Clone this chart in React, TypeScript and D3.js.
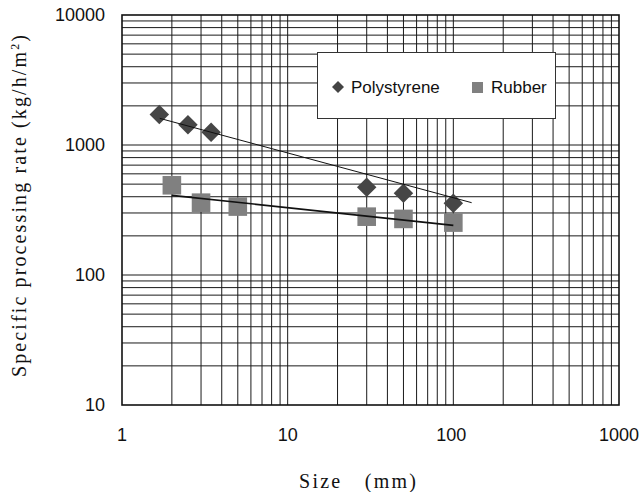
import * as d3 from "d3";

// size in mm vs specific processing rate (kg/h/m2)
const polySize = [1.68, 2.5, 3.45, 30, 50, 100];
const polyRate = [1720, 1430, 1255, 473, 425, 356];
const rubberSize = [2, 3, 5, 30, 50, 100];
const rubberRate = [490, 360, 336, 281, 270, 253];

// trend line ends
const polyTrendSize = [1.69, 129];
const polyTrendRate = [1603, 360];
const rubberTrendSize = [2, 100];
const rubberTrendRate = [410, 241];

const xTickValues = [1, 10, 100, 1000];
const yTickValues = [10, 100, 1000, 10000];

const W = 640;
const H = 492;
const M = { left: 122, right: 619, top: 15, bottom: 405 };

const SANS = "'Liberation Sans', Arial, sans-serif";
const SERIF = "'Liberation Serif', 'DejaVu Serif', serif";

export default function App() {
  const x = d3.scaleLog().domain([1, 1000]).range([M.left, M.right]);
  const y = d3.scaleLog().domain([10, 10000]).range([M.bottom, M.top]);

  // minor grid: 1..9 in every decade
  const gridX: number[] = [];
  const gridY: number[] = [];
  for (const d of [1, 10, 100]) for (let k = 2; k <= 9; k++) gridX.push(d * k);
  for (const d of [10, 100, 1000]) for (let k = 2; k <= 9; k++) gridY.push(d * k);
  gridX.push(10, 100);
  gridY.push(100, 1000);

  const line = d3
    .line<[number, number]>()
    .x((d) => x(d[0]))
    .y((d) => y(d[1]));

  const polyTrend = polyTrendSize.map((s, i) => [s, polyTrendRate[i]] as [number, number]);
  const rubberTrend = rubberTrendSize.map((s, i) => [s, rubberTrendRate[i]] as [number, number]);

  const dia = d3.symbol().type(d3.symbolSquare).size(190)();
  const legendDia = d3.symbol().type(d3.symbolSquare).size(72)();

  return (
    <svg
      width={W}
      height={H}
      style={{ position: "absolute", left: 0, top: 0, background: "#fff" }}
    >
      <rect x={0} y={0} width={W} height={H} fill="#fff" />

      {/* grid */}
      <g stroke="#1a1a1a" strokeWidth={1}>
        {gridX.map((v) => (
          <line key={"gx" + v} x1={x(v)} x2={x(v)} y1={M.top} y2={M.bottom} />
        ))}
        {gridY.map((v) => (
          <line key={"gy" + v} x1={M.left} x2={M.right} y1={y(v)} y2={y(v)} />
        ))}
      </g>
      <rect
        x={M.left}
        y={M.top}
        width={M.right - M.left}
        height={M.bottom - M.top}
        fill="none"
        stroke="#111"
        strokeWidth={1.6}
      />

      {/* legend */}
      <rect x={317.5} y={52.5} width={238} height={66} fill="#fff" stroke="#333" strokeWidth={1} />
      <path d={legendDia} transform="translate(338,87) rotate(45)" fill="#444" />
      <text x={351} y={93} fontFamily={SANS} fontSize={17} fill="#111">
        Polystyrene
      </text>
      <rect x={472} y={82} width={11} height={11} fill="#808080" />
      <text x={491} y={93} fontFamily={SANS} fontSize={17} fill="#111">
        Rubber
      </text>

      {/* markers */}
      {polySize.map((s, i) => (
        <path
          key={"p" + i}
          d={dia}
          transform={`translate(${x(s)},${y(polyRate[i])}) rotate(45)`}
          fill="#464646"
        />
      ))}
      {rubberSize.map((s, i) => (
        <rect
          key={"r" + i}
          x={x(s) - 9.3}
          y={y(rubberRate[i]) - 9.3}
          width={18.6}
          height={18.6}
          fill="#808080"
        />
      ))}

      {/* trend lines */}
      <path d={line(polyTrend) ?? ""} fill="none" stroke="#111" strokeWidth={1} />
      <path d={line(rubberTrend) ?? ""} fill="none" stroke="#111" strokeWidth={1.6} />

      {/* tick labels */}
      {yTickValues.map((v) => (
        <text
          key={"yt" + v}
          x={105}
          y={y(v) + 6}
          textAnchor="end"
          fontFamily={SANS}
          fontSize={18}
          fill="#111"
        >
          {v}
        </text>
      ))}
      {xTickValues.map((v) => (
        <text
          key={"xt" + v}
          x={x(v) - (v === 100 ? 2 : 0)}
          y={441}
          textAnchor="middle"
          fontFamily={SANS}
          fontSize={18}
          fill="#111"
        >
          {v}
        </text>
      ))}

      {/* axis titles */}
      <text
        x={299}
        y={488}
        fontFamily={SERIF}
        fontSize={20}
        fill="#111"
        textLength={117}
        lengthAdjust="spacing"
      >
        Size　(mm)
      </text>
      <text
        transform="translate(26,377) rotate(-90)"
        fontFamily={SERIF}
        fontSize={20}
        fill="#111"
        textLength={342}
        lengthAdjust="spacing"
      >
        Specific processing rate (kg/h/m
        <tspan fontSize={12} dy={-7}>2</tspan>
        <tspan dy={7}>)</tspan>
      </text>
    </svg>
  );
}
